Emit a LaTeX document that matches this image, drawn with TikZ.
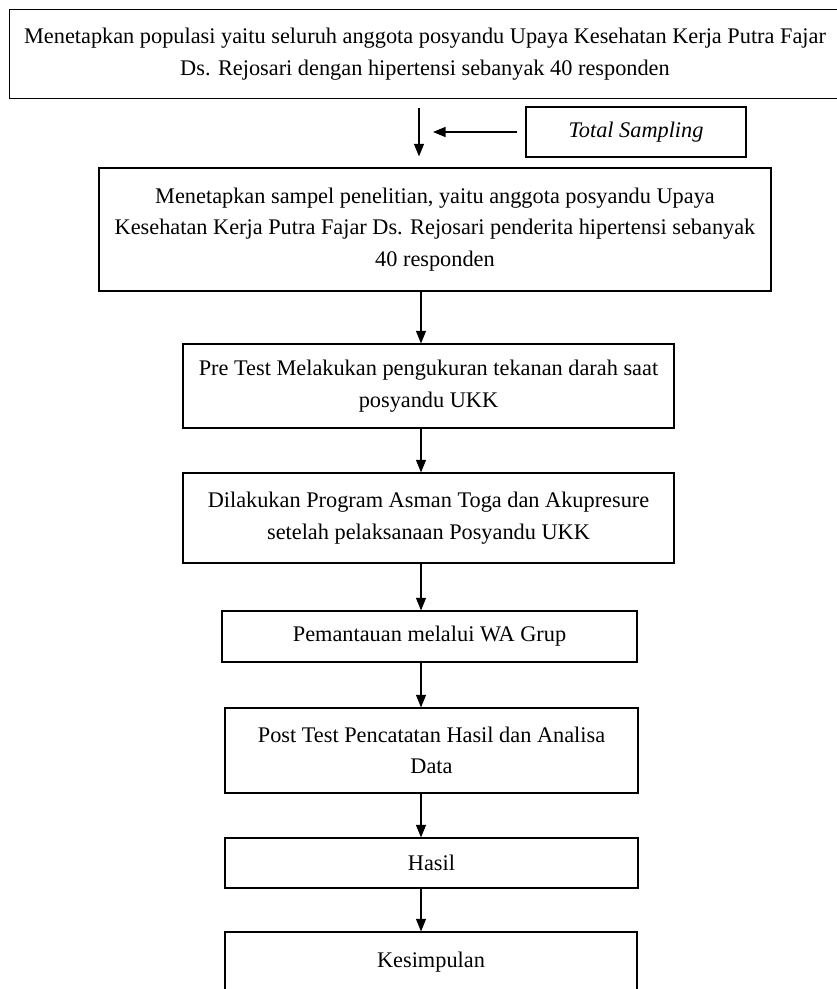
\documentclass[tikz,border=0pt]{standalone}
\usepackage{fontspec}
\setmainfont{Liberation Serif}
\usetikzlibrary{arrows.meta}

\begin{document}
\begin{tikzpicture}[x=0.02cm, y=-0.02cm,
  box/.style={draw, line width=.7pt, inner sep=0, align=center, font=\fontsize{12.7}{18}\selectfont},
  arr/.style={line width=.6pt, -{Triangle[length=.25cm, width=.2cm]}}]
\def\flow#1#2{\draw [arr] (#1.south -| ax) -- (#2.north -| ax);}
\useasboundingbox (0, 0) rectangle (837, 989);
\clip (0, 0) rectangle (837, 989);

% top box runs past the right edge of the page
\node [box, draw = none, minimum width = 16.6cm, minimum height = 1.76cm] (populasi) at (425, 54)
  {Menetapkan populasi yaitu seluruh anggota posyandu Upaya Kesehatan Kerja Putra Fajar\\Ds. Rejosari dengan hipertensi sebanyak 40 responden};
\draw [line width = .7pt] (populasi.north east) -- (populasi.north west) -- (populasi.south west) -- (populasi.south east);
\node [box, minimum width = 4.4cm, minimum height = 1cm] (total) at (636, 132) {\textit{Total Sampling}};
\node [box, minimum width = 13.44cm, minimum height = 2.46cm] (sampel) at (435, 229.5)
  {Menetapkan sampel penelitian, yaitu anggota posyandu Upaya\\Kesehatan Kerja Putra Fajar Ds. Rejosari penderita hipertensi sebanyak\\40 responden};
\node [box, minimum width = 9.82cm, minimum height = 1.68cm] (pretest) at (428.5, 386)
  {Pre Test Melakukan pengukuran tekanan darah saat\\posyandu UKK};
\node [box, minimum width = 9.82cm, minimum height = 1.8cm] (program) at (428.5, 518)
  {Dilakukan Program Asman Toga dan Akupresure\\setelah pelaksanaan Posyandu UKK};
\node [box, minimum width = 8.3cm, minimum height = 1.02cm] (pantau) at (429.5, 636.5) {Pemantauan melalui WA Grup};
\node [box, minimum width = 8.26cm, minimum height = 1.7cm] (posttest) at (431.5, 750.5)
  {Post Test Pencatatan Hasil dan Analisa\\Data};
\node [box, minimum width = 8.26cm, minimum height = 1cm] (hasil) at (431.5, 863) {Hasil};
\node [box, minimum width = 8.24cm, minimum height = 1.2cm] (simpul) at (431, 962) {Kesimpulan};

% arrows
\coordinate (ts) at (419, 0);
\coordinate (ax) at (421, 0);
\draw [arr, shorten <= .18cm, shorten >= .22cm] (populasi.south -| ts) -- (sampel.north -| ts);
\draw [arr, shorten <= .16cm, shorten >= .28cm] (total.west) -- (total.west -| ts);
\flow{sampel}{pretest}
\flow{pretest}{program}
\flow{program}{pantau}
\flow{pantau}{posttest}
\flow{posttest}{hasil}
\flow{hasil}{simpul}

\end{tikzpicture}
\end{document}
